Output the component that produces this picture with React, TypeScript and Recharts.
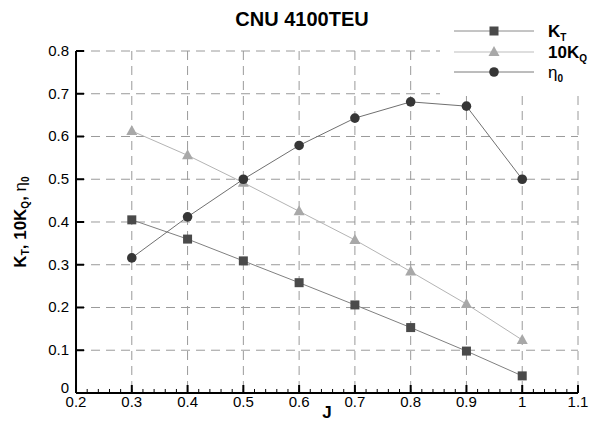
import { LineChart, Line, XAxis, YAxis, CartesianGrid, Legend } from 'recharts';

const advanceRatio = [0.3, 0.4, 0.5, 0.6, 0.7, 0.8, 0.9, 1.0];
const ktValues = [0.405, 0.36, 0.309, 0.258, 0.206, 0.153, 0.098, 0.04];
const kq10Values = [0.613, 0.556, 0.492, 0.425, 0.358, 0.284, 0.208, 0.124];
const etaValues = [0.316, 0.412, 0.5, 0.579, 0.643, 0.681, 0.671, 0.5];

const xTicks = [0.2, 0.3, 0.4, 0.5, 0.6, 0.7, 0.8, 0.9, 1, 1.1];
const yTicks = [0, 0.1, 0.2, 0.3, 0.4, 0.5, 0.6, 0.7, 0.8];
const xMinorTicks = Array.from({ length: 46 }, (_, i) => Math.round((0.2 + i * 0.02) * 100) / 100);
const yMinorTicks = Array.from({ length: 41 }, (_, i) => Math.round(i * 0.02 * 100) / 100);

const data = advanceRatio.map((j, i) => ({
  j,
  kt: ktValues[i],
  kq10: kq10Values[i],
  eta: etaValues[i],
}));

const FONT = 'Arial, "Liberation Sans", Helvetica, sans-serif';
const KT_COLOR = '#4a4a4a';
const KQ_COLOR = '#a8a8a8';
const ETA_COLOR = '#363636';
// axes need a non-zero size to render, keep it negligible so they don't shift each other
const THIN = 0.01;

const SquareDot = (props: any) => {
  const { cx, cy } = props;
  if (cx == null || cy == null) return null;
  return <rect x={cx - 4.5} y={cy - 4.5} width={9} height={9} fill={KT_COLOR} />;
};

const TriangleDot = (props: any) => {
  const { cx, cy } = props;
  if (cx == null || cy == null) return null;
  return <polygon points={`${cx},${cy - 6} ${cx + 5.5},${cy + 4} ${cx - 5.5},${cy + 4}`} fill={KQ_COLOR} />;
};

const CircleDot = (props: any) => {
  const { cx, cy } = props;
  if (cx == null || cy == null) return null;
  return <circle cx={cx} cy={cy} r={4.8} fill={ETA_COLOR} />;
};

const NoLabel = () => <g />;

// the "0" sits a little high so it clears the 0.2 of the J axis
const YTick = (props: any) => {
  const { x, y, payload } = props;
  return (
    <text x={x} y={y} dy={payload.value === 0 ? 0 : 5} textAnchor="end" fontFamily={FONT} fontSize={15} fill="#000">
      {payload.value}
    </text>
  );
};

function LegendBox() {
  const rows = [
    { key: 'kt', y: 31, line: '#8a8a8a', marker: 'square' },
    { key: 'kq', y: 52, line: '#bdbdbd', marker: 'triangle' },
    { key: 'eta', y: 72, line: '#7a7a7a', marker: 'circle' },
  ];
  return (
    <svg width={157} height={95} style={{ display: 'block' }}>
      {rows.map((r) => (
        <g key={r.key}>
          <line x1={14} x2={94} y1={r.y} y2={r.y} stroke={r.line} strokeWidth={1} />
          {r.marker === 'square' && <rect x={49.5} y={r.y - 4.5} width={9} height={9} fill={KT_COLOR} />}
          {r.marker === 'triangle' && (
            <polygon points={`54,${r.y - 6} 59.5,${r.y + 4} 48.5,${r.y + 4}`} fill={KQ_COLOR} />
          )}
          {r.marker === 'circle' && <circle cx={54} cy={r.y} r={4.8} fill={ETA_COLOR} />}
        </g>
      ))}
      <text x={108} y={37} fontFamily={FONT} fontSize={17} fontWeight="bold" fill="#000">
        K<tspan fontSize={10} dy={4}>T</tspan>
      </text>
      <text x={108} y={58} fontFamily={FONT} fontSize={17} fontWeight="bold" fill="#000">
        10K<tspan fontSize={10} dy={4}>Q</tspan>
      </text>
      <text x={108} y={78} fontFamily={FONT} fontSize={17} fill="#000">
        η<tspan fontSize={10} fontWeight="bold" dy={4}>0</tspan>
      </text>
    </svg>
  );
}

function YTitle() {
  return (
    <text
      x={22}
      y={222}
      transform="rotate(-90, 22, 222)"
      textAnchor="middle"
      dominantBaseline="middle"
      fontFamily={FONT}
      fontSize={17}
      fill="#000"
    >
      <tspan fontWeight="bold">K</tspan>
      <tspan fontWeight="bold" fontSize={10} dy={4}>T</tspan>
      <tspan fontWeight="bold" dy={-4}>, 10K</tspan>
      <tspan fontWeight="bold" fontSize={10} dy={4}>Q</tspan>
      <tspan fontWeight="bold" dy={-4}>, </tspan>
      <tspan>η</tspan>
      <tspan fontSize={10} fontWeight="bold" dy={4}>0</tspan>
    </text>
  );
}

export default function App() {
  return (
    <div style={{ position: 'absolute', left: 0, top: 0, width: 597, height: 421, background: '#fff' }}>
      <div
        style={{
          position: 'absolute',
          left: 0,
          width: 604,
          top: 7,
          textAlign: 'center',
          fontFamily: FONT,
          fontWeight: 'bold',
          fontSize: 20,
          lineHeight: '24px',
          color: '#000',
          zIndex: 2,
        }}
      >
        CNU 4100TEU
      </div>
      <LineChart width={597} height={421} data={data} margin={{ top: 51, right: 19, bottom: 28, left: 76 }}>
        <CartesianGrid stroke="#9a9a9a" strokeDasharray="9 6" strokeWidth={1} />
        <XAxis
          xAxisId="minor"
          dataKey="j"
          type="number"
          domain={[0.2, 1.1]}
          ticks={xMinorTicks}
          interval={0}
          height={THIN}
          tick={<NoLabel />}
          tickSize={-4}
          tickLine={{ stroke: '#000', strokeWidth: 1 }}
          axisLine={false}
        />
        <YAxis
          yAxisId="minor"
          type="number"
          domain={[0, 0.8]}
          ticks={yMinorTicks}
          interval={0}
          width={THIN}
          tick={<NoLabel />}
          tickSize={-4}
          tickLine={{ stroke: '#000', strokeWidth: 1 }}
          axisLine={false}
        />
        <XAxis
          dataKey="j"
          type="number"
          domain={[0.2, 1.1]}
          ticks={xTicks}
          interval={0}
          height={THIN}
          tickSize={-8}
          tickMargin={11}
          tickLine={{ stroke: '#000', strokeWidth: 2 }}
          axisLine={{ stroke: '#000', strokeWidth: 2 }}
          tick={{ fill: '#000', fontSize: 15, fontFamily: FONT }}
          label={{
            value: 'J',
            position: 'insideBottom',
            content: () => (
              <text x={327} y={418} textAnchor="middle" fontFamily={FONT} fontSize={17} fontWeight="bold" fill="#000">
                J
              </text>
            ),
          }}
        />
        <YAxis
          type="number"
          domain={[0, 0.8]}
          ticks={yTicks}
          interval={0}
          width={THIN}
          tickSize={-8}
          tickMargin={15}
          tickLine={{ stroke: '#000', strokeWidth: 2 }}
          axisLine={{ stroke: '#000', strokeWidth: 2 }}
          tick={<YTick />}
          label={{ value: 'KT', content: () => <YTitle /> }}
        />
        <Legend
          layout="vertical"
          align="center"
          verticalAlign="middle"
          wrapperStyle={{ left: 440, top: 0, width: 157, height: 95, background: '#fff' }}
          content={() => <LegendBox />}
        />
        <Line
          dataKey="kq10"
          stroke="#b4b4b4"
          strokeWidth={1}
          dot={<TriangleDot />}
          activeDot={false}
          isAnimationActive={false}
        />
        <Line
          dataKey="kt"
          stroke="#808080"
          strokeWidth={1}
          dot={<SquareDot />}
          activeDot={false}
          isAnimationActive={false}
        />
        <Line
          dataKey="eta"
          stroke="#707070"
          strokeWidth={1}
          dot={<CircleDot />}
          activeDot={false}
          isAnimationActive={false}
        />
      </LineChart>
    </div>
  );
}
